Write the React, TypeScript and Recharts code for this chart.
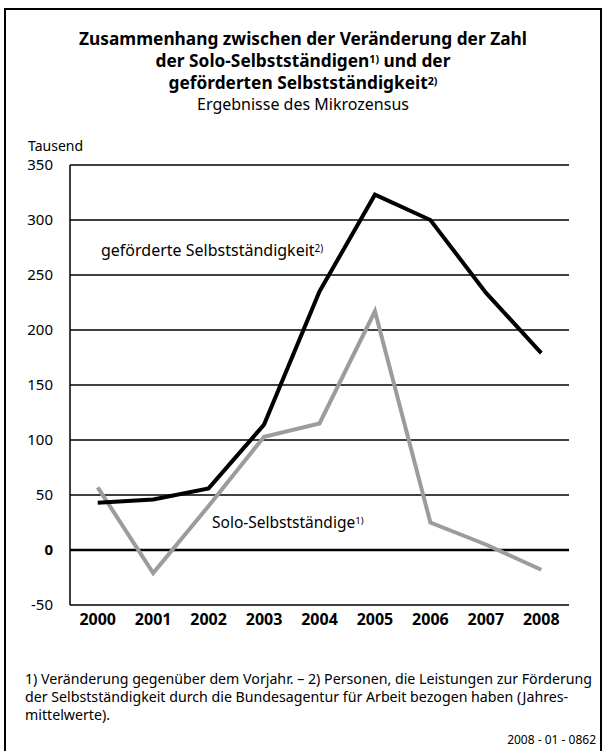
import React from 'react';
import { LineChart, Line, XAxis, YAxis, CartesianGrid, ReferenceLine } from 'recharts';

const years = ['2000', '2001', '2002', '2003', '2004', '2005', '2006', '2007', '2008'];
const gefoerderte = [43, 46, 56, 114, 235, 323, 300, 234, 179];
const solo = [57, -21, 40, 103, 115, 217, 25, 5, -18];
const yTicks = [-50, 0, 50, 100, 150, 200, 250, 300, 350];

const data = years.map((y, i) => ({ i, year: y, gefoerderte: gefoerderte[i], solo: solo[i] }));
const boundaryTicks = [...years.map((_, i) => i - 0.5), years.length - 0.5];
const labelTicks = years.map((_, i) => i);

const FONT = '"Noto Sans", "Open Sans", sans-serif';

const Sup = ({ children }: { children: React.ReactNode }) => (
  <span style={{ fontSize: '0.62em', position: 'relative', top: '-0.42em', lineHeight: 1 }}>{children}</span>
);

const YTick = (props: any) => {
  const { x, y, payload } = props;
  return (
    <text
      x={x}
      y={y}
      dy={5}
      textAnchor="end"
      fontSize={15}
      fontFamily={FONT}
      fontWeight={payload.value === 0 ? 700 : 400}
      fill="#000"
    >
      {payload.value}
    </text>
  );
};

export default function App() {
  return (
    <div
      style={{
        position: 'absolute',
        left: 0,
        top: 0,
        width: 606,
        height: 751,
        overflow: 'hidden',
        background: '#fff',
        fontFamily: FONT,
        color: '#000',
      }}
    >
      <div
        style={{
          position: 'absolute',
          left: 4,
          top: 8,
          width: 594,
          height: 800,
          borderLeft: '2px solid #000',
          borderTop: '2px solid #000',
          borderRight: '2px solid #000',
        }}
      />
      <div style={{ position: 'absolute', left: 0, width: 606, top: 28, textAlign: 'center' }}>
        <div style={{ fontSize: 17.3, fontWeight: 700, lineHeight: '22px' }}>
          Zusammenhang zwischen der Veränderung der Zahl
        </div>
        <div style={{ fontSize: 17.3, fontWeight: 700, lineHeight: '22px' }}>
          der Solo-Selbstständigen<Sup>1)</Sup> und der
        </div>
        <div style={{ fontSize: 17.3, fontWeight: 700, lineHeight: '22px' }}>
          geförderten Selbstständigkeit<Sup>2)</Sup>
        </div>
        <div style={{ fontSize: 16, fontWeight: 400, lineHeight: '21px' }}>Ergebnisse des Mikrozensus</div>
      </div>
      <div style={{ position: 'absolute', left: 28, top: 139, fontSize: 14, lineHeight: '14px' }}>Tausend</div>

      <div style={{ position: 'absolute', left: 0, top: 0 }}>
        <LineChart width={606} height={640} data={data} margin={{ top: 165, right: 37, bottom: 0, left: 0 }}>
          <CartesianGrid
            xAxisId="b"
            yAxisId="left"
            vertical={false}
            stroke="#000"
            strokeWidth={1.3}
            strokeOpacity={1}
          />
          <XAxis
            xAxisId="b"
            type="number"
            dataKey="i"
            domain={[-0.5, 8.5]}
            ticks={boundaryTicks}
            interval={0}
            height={0}
            tickSize={7}
            tick={false}
            axisLine={{ stroke: '#000', strokeWidth: 1.5 }}
            tickLine={{ stroke: '#000', strokeWidth: 1.3 }}
          />
          <XAxis
            xAxisId="l"
            type="number"
            dataKey="i"
            domain={[-0.5, 8.5]}
            ticks={labelTicks}
            interval={0}
            height={35}
            tickSize={0}
            tickMargin={9}
            axisLine={false}
            tickLine={false}
            tickFormatter={(v: number) => years[v] ?? ''}
            tick={{ fill: '#000', fontSize: 16, fontWeight: 700, fontFamily: FONT }}
          />
          <YAxis
            yAxisId="left"
            domain={[-50, 350]}
            ticks={yTicks}
            interval={0}
            width={70}
            tickSize={0}
            tickMargin={17}
            tickLine={false}
            axisLine={{ stroke: '#000', strokeWidth: 1.5 }}
            tick={<YTick />}
          />
          <YAxis
            yAxisId="right"
            orientation="right"
            domain={[-50, 350]}
            width={0}
            tick={false}
            tickLine={false}
            axisLine={{ stroke: '#000', strokeWidth: 1.5 }}
          />
          <ReferenceLine xAxisId="b" yAxisId="left" y={0} stroke="#000" strokeWidth={2.5} />
          <Line
            xAxisId="b"
            yAxisId="left"
            type="linear"
            dataKey="solo"
            stroke="#9c9c9c"
            strokeWidth={4}
            dot={false}
            activeDot={false}
            isAnimationActive={false}
          />
          <Line
            xAxisId="b"
            yAxisId="left"
            type="linear"
            dataKey="gefoerderte"
            stroke="#000"
            strokeWidth={4}
            dot={false}
            activeDot={false}
            isAnimationActive={false}
          />
        </LineChart>
      </div>

      <div style={{ position: 'absolute', left: 101, top: 241, fontSize: 16, lineHeight: '18px', whiteSpace: 'nowrap' }}>
        geförderte Selbstständigkeit<Sup>2)</Sup>
      </div>
      <div style={{ position: 'absolute', left: 212, top: 513, fontSize: 15.5, lineHeight: '18px', whiteSpace: 'nowrap' }}>
        Solo-Selbstständige<Sup>1)</Sup>
      </div>

      <div style={{ position: 'absolute', left: 25, top: 670, width: 576, fontSize: 14.2, lineHeight: '18px' }}>
        <div style={{ whiteSpace: 'nowrap' }}>
          1) Veränderung gegenüber dem Vorjahr. – 2) Personen, die Leistungen zur Förderung
        </div>
        <div style={{ whiteSpace: 'nowrap' }}>
          der Selbstständigkeit durch die Bundesagentur für Arbeit bezogen haben (Jahres-
        </div>
        <div style={{ whiteSpace: 'nowrap' }}>mittelwerte).</div>
      </div>
      <div
        style={{
          position: 'absolute',
          right: 10,
          top: 733,
          fontSize: 12,
          lineHeight: '14px',
          whiteSpace: 'nowrap',
        }}
      >
        2008 - 01 - 0862
      </div>
    </div>
  );
}
